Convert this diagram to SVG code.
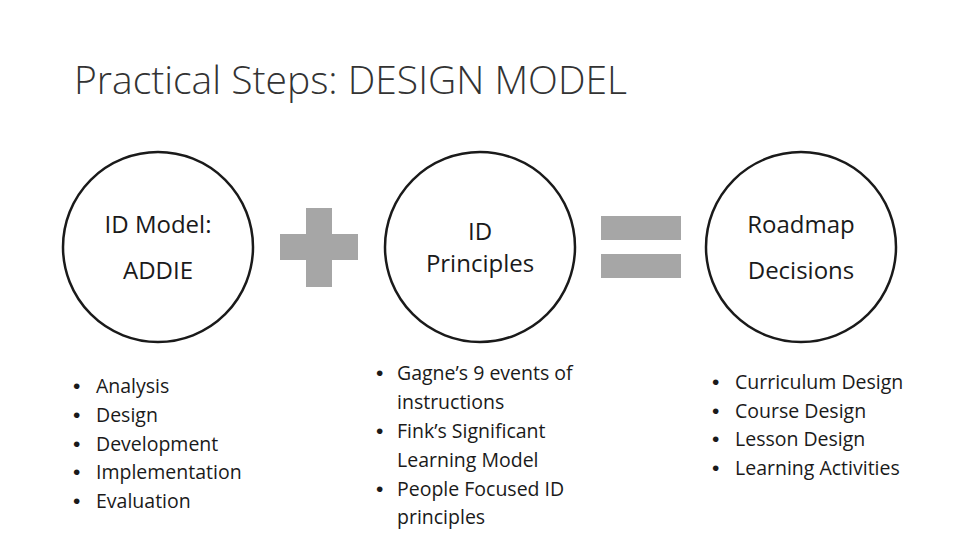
<svg xmlns="http://www.w3.org/2000/svg" width="960" height="540" viewBox="0 0 960 540">
<style>
text{font-family:"Open Sans","Liberation Sans",sans-serif;fill:#1a1a1a}
.c{fill:#fff;stroke:#1a1a1a;stroke-width:2.5}
.g{fill:#a6a6a6}
.t{font-size:24px;text-anchor:middle}
.b{font-size:19.5px}
.d{font-family:"Liberation Sans",sans-serif;font-size:21px}
</style>
<rect width="960" height="540" fill="#fff"/>
<text x="74" y="94" textLength="553" lengthAdjust="spacingAndGlyphs" style="font-size:38px;font-weight:300;fill:#333">Practical Steps: DESIGN MODEL</text>
<g id="node-addie">
<circle class="c" cx="158" cy="247" r="95"/>
<text class="t" x="158" y="233">ID Model:</text>
<text class="t" x="158" y="279">ADDIE</text>
</g>
<g id="plus"><rect class="g" x="306" y="208" width="26" height="79"/><rect class="g" x="280" y="234" width="78" height="26"/></g>
<g id="node-principles">
<circle class="c" cx="480" cy="247" r="95"/>
<text class="t" x="480" y="240">ID</text>
<text class="t" x="480" y="272">Principles</text>
</g>
<g id="equals"><rect class="g" x="601" y="216" width="80" height="24"/><rect class="g" x="601" y="254" width="80" height="24"/></g>
<g id="node-roadmap">
<circle class="c" cx="801" cy="247" r="95"/>
<text class="t" x="801" y="233">Roadmap</text>
<text class="t" x="801" y="279">Decisions</text>
</g>
<g id="list-addie" class="b">
<text class="d" x="73" y="393">•</text><text x="96" y="393">Analysis</text>
<text class="d" x="73" y="422">•</text><text x="96" y="422">Design</text>
<text class="d" x="73" y="451">•</text><text x="96" y="451">Development</text>
<text class="d" x="73" y="479">•</text><text x="96" y="479">Implementation</text>
<text class="d" x="73" y="508">•</text><text x="96" y="508">Evaluation</text>
</g>
<g id="list-principles" class="b">
<text class="d" x="376" y="380">•</text><text x="397" y="380">Gagne’s 9 events of</text>
<text x="397" y="409">instructions</text>
<text class="d" x="376" y="438">•</text><text x="397" y="438">Fink’s Significant</text>
<text x="397" y="467">Learning Model</text>
<text class="d" x="376" y="496">•</text><text x="397" y="496">People Focused ID</text>
<text x="397" y="524">principles</text>
</g>
<g id="list-roadmap" class="b">
<text class="d" x="712" y="389">•</text><text x="735" y="389">Curriculum Design</text>
<text class="d" x="712" y="418">•</text><text x="735" y="418">Course Design</text>
<text class="d" x="712" y="446">•</text><text x="735" y="446">Lesson Design</text>
<text class="d" x="712" y="475">•</text><text x="735" y="475">Learning Activities</text>
</g>
<g id="connectors"/>
</svg>
